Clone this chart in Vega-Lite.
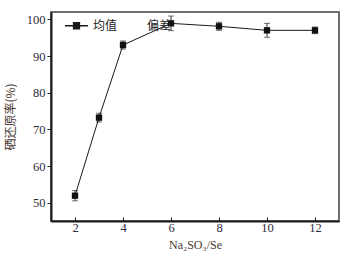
{
  "$schema": "https://vega.github.io/schema/vega-lite/v6.json",
  "autosize": "none",
  "width": 288,
  "height": 209,
  "padding": {"left": 51, "top": 12, "right": 11, "bottom": 41},
  "background": "white",
  "config": {
    "view": {"stroke": "#6e6e6e", "strokeWidth": 2},
    "font": "Liberation Serif"
  },
  "data": {
    "values": [
      {"ratio": 2, "rate": 51.9, "err": 1.4, "series": "均值"},
      {"ratio": 3, "rate": 73.2, "err": 1.2, "series": "均值"},
      {"ratio": 4, "rate": 93.0, "err": 1.1, "series": "均值"},
      {"ratio": 6, "rate": 98.9, "err": 2.0, "series": "均值"},
      {"ratio": 8, "rate": 98.1, "err": 1.1, "series": "均值"},
      {"ratio": 10, "rate": 97.0, "err": 1.9, "series": "均值"},
      {"ratio": 12, "rate": 97.0, "err": 0.9, "series": "均值"}
    ]
  },
  "transform": [
    {"calculate": "datum.rate - datum.err", "as": "lo"},
    {"calculate": "datum.rate + datum.err", "as": "hi"}
  ],
  "encoding": {
    "x": {
      "field": "ratio",
      "type": "quantitative",
      "scale": {"domain": [1, 13], "nice": false, "zero": false},
      "axis": {
        "values": [2, 4, 6, 8, 10, 12],
        "title": "Na₂SO₃/Se",
        "titleFont": "Liberation Serif",
        "titleFontSize": 12,
        "titleFontWeight": "normal",
        "titleColor": "#4a3a30",
        "titlePadding": 6,
        "labelFont": "Liberation Serif",
        "labelFontSize": 12.5,
        "labelColor": "#2e2a40",
        "labelPadding": 4,
        "tickSize": -4,
        "tickColor": "#222",
        "domainColor": "#1a1a1a",
        "domainWidth": 2,
        "grid": false
      }
    }
  },
  "layer": [
    {
      "mark": {"type": "rule", "color": "#333", "strokeWidth": 1},
      "encoding": {
        "y": {"field": "lo", "type": "quantitative"},
        "y2": {"field": "hi"}
      }
    },
    {
      "mark": {"type": "tick", "orient": "horizontal", "color": "#333", "size": 6, "thickness": 1},
      "encoding": {"y": {"field": "lo", "type": "quantitative"}}
    },
    {
      "mark": {"type": "tick", "orient": "horizontal", "color": "#333", "size": 6, "thickness": 1},
      "encoding": {"y": {"field": "hi", "type": "quantitative"}}
    },
    {
      "mark": {"type": "line", "strokeWidth": 1},
      "encoding": {
        "y": {
          "field": "rate",
          "type": "quantitative",
          "scale": {"domain": [45, 102], "nice": false, "zero": false},
          "axis": {
            "values": [50, 60, 70, 80, 90, 100],
            "title": "硒还原率(%)",
            "titleFont": "Noto Sans CJK SC",
            "titleFontSize": 12,
            "titleFontWeight": "normal",
            "titleColor": "#4a3a30",
            "titlePadding": 9,
            "labelFont": "Liberation Serif",
            "labelFontSize": 12.5,
            "labelColor": "#2e2a40",
            "labelPadding": 2,
            "tickSize": 4,
            "tickColor": "#222",
            "domainColor": "#1a1a1a",
            "domainWidth": 2,
            "grid": false
          }
        },
        "stroke": {
          "field": "series",
          "type": "nominal",
          "scale": {"domain": ["均值", "偏差"], "range": ["#1a1a1a", "rgba(0,0,0,0)"]},
          "legend": {
            "title": null,
            "orient": "none",
            "legendX": 13,
            "legendY": 1,
            "direction": "horizontal",
            "symbolType": "M-1,0L1,0M-0.26,-0.26L0.26,-0.26L0.26,0.26L-0.26,0.26ZM-0.17,-0.17L0.17,-0.17L0.17,0.17L-0.17,0.17ZM-0.08,-0.08L0.08,-0.08L0.08,0.08L-0.08,0.08Z",
            "symbolSize": 529,
            "symbolStrokeWidth": 1.3,
            "labelFont": "Noto Sans CJK SC",
            "labelFontSize": 12,
            "labelColor": "#222",
            "labelOffset": 4,
            "columnPadding": -40,
            "padding": 0
          }
        }
      }
    },
    {
      "mark": {"type": "point", "shape": "square", "filled": true, "color": "#111", "opacity": 1, "size": 40},
      "encoding": {
        "y": {"field": "rate", "type": "quantitative"}
      }
    }
  ]
}
